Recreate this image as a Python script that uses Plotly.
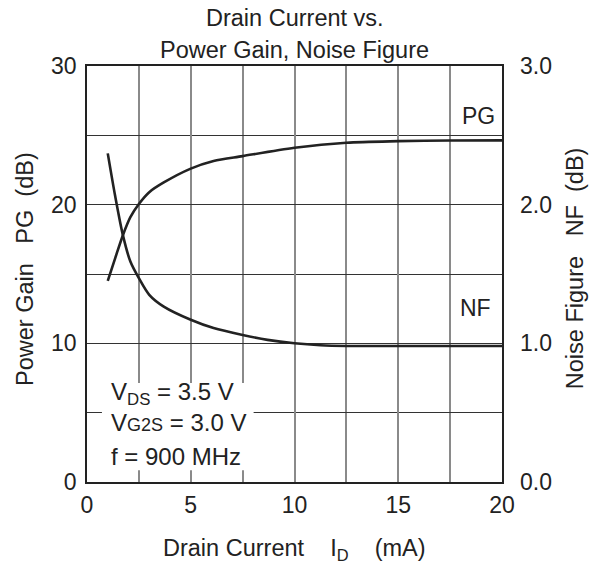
import plotly.graph_objects as go

# Data
drain_current_pg = [1.0, 1.36, 1.73, 2.09, 2.5, 3.0, 3.7, 5.0, 6.1, 7.5, 10.0, 12.5, 15.0, 17.5, 20.0]
power_gain_db = [14.5, 16.15, 17.8, 19.1, 20.05, 20.9, 21.6, 22.6, 23.15, 23.5, 24.1, 24.47, 24.58, 24.63, 24.64]

drain_current_nf = [1.0, 1.36, 1.73, 2.09, 2.5, 3.0, 3.7, 5.0, 6.1, 7.5, 8.7, 10.0, 11.25, 12.5, 15.0, 17.5, 20.0]
noise_figure_db = [2.37, 2.06, 1.78, 1.59, 1.47, 1.35, 1.265, 1.17, 1.11, 1.06, 1.025, 1.0, 0.986, 0.981, 0.981, 0.981, 0.981]

x_tickvals = [0, 5, 10, 15, 20]
x_ticktext = ["0", "5", "10", "15", "20"]
y_tickvals = [0, 10, 20, 30]
y_ticktext = ["0", "10", "20", "30"]
y2_tickvals = [0, 1, 2, 3]
y2_ticktext = ["0.0", "1.0", "2.0", "3.0"]

FONT = "Liberation Sans, Arial, sans-serif"
INK = "#222222"
VGRID = "#8a8a8a"
HGRID = "#333333"

fig = go.Figure()
fig.add_trace(go.Scatter(x=drain_current_pg, y=power_gain_db, mode="lines",
                         line=dict(color=INK, width=2.6, shape="spline", smoothing=0.8),
                         showlegend=False, hoverinfo="skip"))
fig.add_trace(go.Scatter(x=drain_current_nf, y=noise_figure_db, mode="lines", yaxis="y2",
                         line=dict(color=INK, width=2.6, shape="spline", smoothing=0.8),
                         showlegend=False, hoverinfo="skip"))

fig.update_layout(
    width=594, height=558,
    margin=dict(l=79, r=100, t=58, b=84),
    paper_bgcolor="white", plot_bgcolor="white",
    font=dict(family=FONT, size=23, color=INK),
    xaxis=dict(range=[0, 20], tickvals=x_tickvals, ticktext=x_ticktext,
               showgrid=True, gridcolor=VGRID, gridwidth=1.6,
               minor=dict(dtick=2.5, showgrid=True, gridcolor=VGRID, gridwidth=1.6, ticks=""),
               showline=True, mirror=True, linecolor=INK, linewidth=1.6,
               zeroline=False, ticks="", ticklabelstandoff=2,
               tickfont=dict(size=23, color=INK)),
    yaxis=dict(range=[0, 30], tickvals=y_tickvals, ticktext=y_ticktext,
               showgrid=True, gridcolor=HGRID, gridwidth=1.1,
               minor=dict(dtick=5, showgrid=True, gridcolor=HGRID, gridwidth=1.1, ticks=""),
               showline=True, mirror=True, linecolor=INK, linewidth=1.6,
               zeroline=False, ticks="", ticklabelstandoff=4,
               tickfont=dict(size=23, color=INK)),
    yaxis2=dict(range=[0, 3], tickvals=y2_tickvals, ticktext=y2_ticktext,
                overlaying="y", side="right", showgrid=False, zeroline=False,
                showline=False, ticks="", ticklabelstandoff=17,
                tickfont=dict(size=23, color=INK)),
)

# White box behind the conditions text
fig.add_shape(type="rect", xref="x", yref="y", x0=0.72, x1=8.03, y0=0.85, y1=7.14,
              fillcolor="white", line=dict(width=0), layer="between")

ann = []
ann.append(dict(text="Drain Current vs.", xref="paper", yref="paper", x=0.5, y=1,
                xanchor="center", yanchor="middle", yshift=48, showarrow=False,
                font=dict(size=23.5)))
ann.append(dict(text="Power Gain, Noise Figure", xref="paper", yref="paper", x=0.5, y=1,
                xanchor="center", yanchor="middle", yshift=16, showarrow=False,
                font=dict(size=23.5)))
ann.append(dict(text="Drain Current\u00a0\u00a0\u00a0 I<sub>D</sub>\u00a0\u00a0\u00a0 (mA)",
                xref="paper", yref="paper", x=0.5, y=0, xanchor="center", yanchor="middle",
                yshift=-67, showarrow=False, font=dict(size=23.5)))
ann.append(dict(text="Power Gain\u00a0\u00a0\u00a0PG\u00a0\u00a0(dB)", textangle=-90,
                xref="paper", yref="paper", x=0, y=0.512, xanchor="center", yanchor="middle",
                xshift=-62, showarrow=False, font=dict(size=23.5)))
ann.append(dict(text="Noise Figure\u00a0\u00a0\u00a0NF\u00a0\u00a0(dB)", textangle=-90,
                xref="paper", yref="paper", x=1, y=0.514, xanchor="center", yanchor="middle",
                xshift=73, showarrow=False, font=dict(size=23.5)))
ann.append(dict(text="PG", xref="x", yref="y", x=19.77, y=26.37, xanchor="right",
                yanchor="middle", showarrow=False, font=dict(size=23)))
ann.append(dict(text="NF", xref="x", yref="y", x=19.58, y=12.56, xanchor="right",
                yanchor="middle", showarrow=False, font=dict(size=23)))
ann.append(dict(text="V<sub>DS</sub> = 3.5 V", xref="x", yref="y", x=1.07, y=6.35,
                xanchor="left", yanchor="middle", showarrow=False, font=dict(size=24)))
ann.append(dict(text="V<span style='font-size:18px'>G2S</span> = 3.0 V", xref="x", yref="y",
                x=1.07, y=4.3, xanchor="left", yanchor="middle", showarrow=False,
                font=dict(size=24)))
ann.append(dict(text="f = 900 MHz", xref="x", yref="y", x=1.07, y=1.86,
                xanchor="left", yanchor="middle", showarrow=False, font=dict(size=24)))
fig.update_layout(annotations=ann)

fig.write_html("out.html")
